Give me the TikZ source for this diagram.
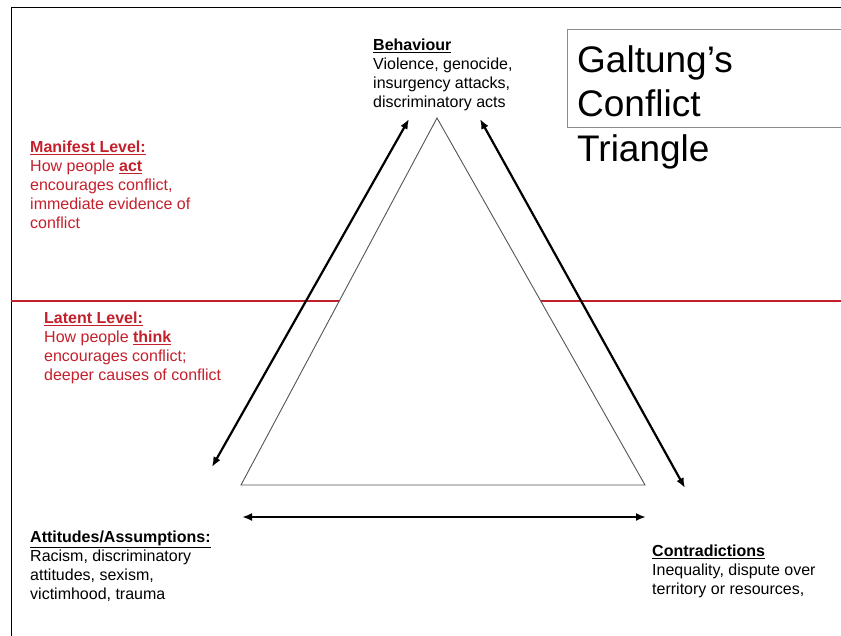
\documentclass[tikz,border=0pt]{standalone}
\usepackage{fontspec}
\setmainfont{Liberation Sans}
\usetikzlibrary{arrows.meta}
\definecolor{levelred}{RGB}{196,32,44}
\definecolor{edgegray}{RGB}{85,85,85}
\definecolor{boxgray}{RGB}{140,140,140}
\begin{document}
\begin{tikzpicture}[x=1pt,y=-1pt,
  body/.style={anchor=north west,inner sep=0pt,align=left,
    font=\fontsize{16}{19}\selectfont},
  redbody/.style={body,text=levelred},
  titletext/.style={anchor=north west,inner sep=0pt,align=left,
    font=\fontsize{37}{44.5}\selectfont},
  twoway/.style={{Latex[length=10pt,width=8pt]}-{Latex[length=10pt,width=8pt]},line width=2.2pt,black}]
\useasboundingbox (0,0) rectangle (841,636);
\fill[white] (0,0) rectangle (841,636);

% outer frame (top and left edges)
\draw[line width=0.9pt,black] (11,636) -- (11,7) -- (841,7);

% divider between manifest and latent levels
\draw[line width=2pt,levelred] (11,301.5) -- (841,301.5);

% the conflict triangle, filled so the divider stops at its sides
\coordinate (apex) at (437,118);
\coordinate (bl) at (241,485);
\coordinate (br) at (645,485);
\filldraw[fill=white,draw=edgegray,line width=0.9pt] (apex) -- (bl) -- (br) -- cycle;

% two-way arrows along the sides
\coordinate (la1) at (409,119);
\coordinate (la2) at (212,467);
\coordinate (ra1) at (480,119);
\coordinate (ra2) at (685,488);
\coordinate (ba1) at (242,517);
\coordinate (ba2) at (646,517);
\draw[twoway] (la1) -- (la2);
\draw[twoway] (ra1) -- (ra2);
\draw[twoway] (ba1) -- (ba2);

% title box
\draw[boxgray,line width=1pt] (843,30) -- (567,30) -- (567,128) -- (843,128);
\node[titletext] (title) at (577,45) {Galtung’s\\Conflict\\Triangle};

% corner labels
\node[body] (behaviour) at (373,39)
  {\textbf{\underline{Behaviour}}\\Violence, genocide,\\insurgency attacks,\\discriminatory acts};
\node[body] (attitudes) at (30,531)
  {\textbf{\underline{Attitudes/Assumptions:}}\\Racism, discriminatory\\attitudes, sexism,\\victimhood, trauma};
\node[body] (contradictions) at (652,545)
  {\textbf{\underline{Contradictions}}\\Inequality, dispute over\\territory or resources,};

% level labels
\node[redbody] (manifest) at (30,141)
  {\textbf{\underline{Manifest Level:}}\\How people \textbf{\underline{act}}\\encourages conflict,\\immediate evidence of\\conflict};
\node[redbody] (latent) at (44,312)
  {\textbf{\underline{Latent Level:}}\\How people \textbf{\underline{think}}\\encourages conflict;\\deeper causes of conflict};
\end{tikzpicture}
\end{document}
